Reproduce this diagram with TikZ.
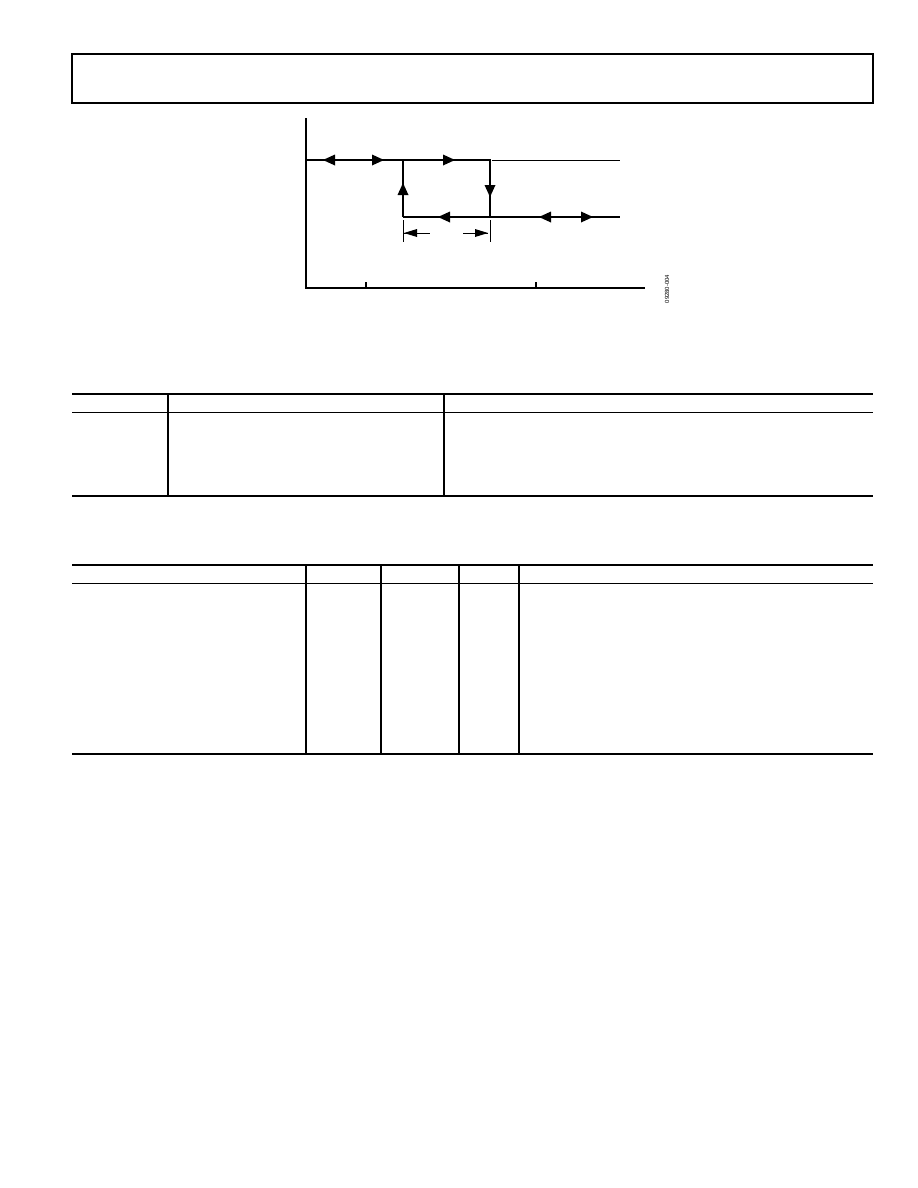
\documentclass[tikz,border=0pt]{standalone}
\usepackage{fontspec}
\setmainfont{Liberation Sans}
\begin{document}
\begin{tikzpicture}[x=1bp,y=-1bp,
  thickline/.style={line width=2.4bp},
  thinline/.style={line width=0.9bp},
  rulethick/.style={line width=2.2bp},
  rule/.style={line width=1.4bp},
  colline/.style={line width=1.1bp},
  tri/.pic={\fill (0,0) -- (-12,5.5) -- (-12,-5.5) -- cycle;},
  smalltri/.pic={\fill (0,0) -- (-13,4) -- (-13,-4) -- cycle;}]
\useasboundingbox (0,0) rectangle (918,1188);
% header box
\draw[line width=1.6bp] (72,54) rectangle (873,103);
% chart coordinates
\coordinate (ytop) at (306,118);
\coordinate (orig) at (306,288);
\coordinate (xend) at (645,288);
\coordinate (ua) at (306,160);
\coordinate (ub) at (403,160);
\coordinate (uc) at (490,160);
\coordinate (ud) at (492,160);
\coordinate (ue) at (620,160);
\coordinate (la) at (403,217);
\coordinate (lb) at (490,217);
\coordinate (lc) at (620,217);
% axes
\draw[thickline] (ytop) -- (orig) -- (xend);
\draw[line width=1.2bp] (366,288) -- (366,281.5);
\draw[line width=1.2bp] (536,288) -- (536,281.5);
% hysteresis loop
\draw[thickline] (ua) -- (uc) -- (lb);
\draw[thinline] (ud) -- (ue);
\draw[thickline] (la) -- (lc);
\draw[thickline] (la) -- (ub);
% arrowheads
\pic[rotate=180] at (323,160) {tri};
\pic at (384,160) {tri};
\pic at (455,160) {tri};
\pic[rotate=90] at (403,183) {tri};
\pic[rotate=-90] at (490,197) {tri};
\pic[rotate=180] at (438,217) {tri};
\pic[rotate=180] at (539,217) {tri};
\pic at (593,217) {tri};
% dimension
\coordinate (da) at (403,220);
\coordinate (db) at (490,220);
\draw[thinline] (da) -- (403,242);
\draw[thinline] (db) -- (490,242);
\draw[thinline] (404,233) -- (430,233);
\draw[thinline] (463,233) -- (488,233);
\pic[rotate=180] at (404,233) {smalltri};
\pic at (488,233) {smalltri};
% figure id
\node[rotate=90, font=\fontsize{6}{7}\selectfont, inner sep=0pt] (figid) at (667,289) {09280-004};
% table 1
\draw[rulethick] (72,394) -- (873,394);
\draw[rule] (72,412.5) -- (873,412.5);
\draw[rule] (72,496) -- (873,496);
\draw[colline] (168,394) -- (168,496);
\draw[colline] (444,394) -- (444,496);
% table 2
\draw[rule] (72,565) -- (873,565);
\draw[rule] (72,583.5) -- (873,583.5);
\draw[line width=2.6bp] (72,754) -- (873,754);
\draw[colline] (306,565) -- (306,754);
\draw[colline] (381,565) -- (381,754);
\draw[colline] (459,565) -- (459,754);
\draw[line width=2bp] (519,565) -- (519,754);
\end{tikzpicture}
\end{document}
